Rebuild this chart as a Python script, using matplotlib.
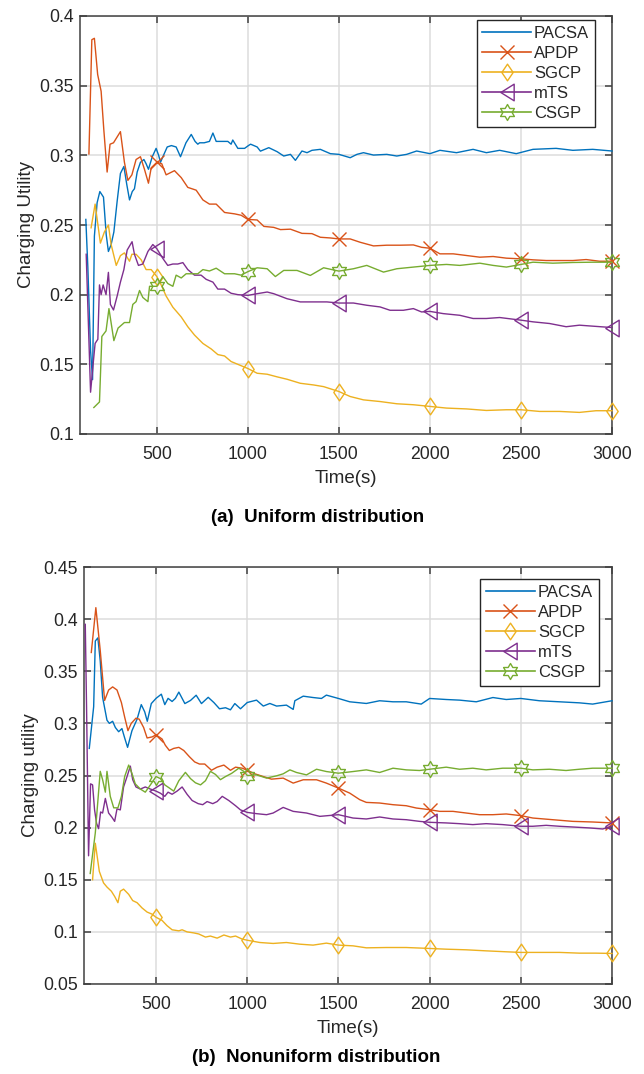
import numpy as np
import matplotlib
matplotlib.use("Agg")
import matplotlib.pyplot as plt
from matplotlib.path import Path
from matplotlib.lines import Line2D

plt.rcParams['font.family'] = ['Liberation Sans', 'DejaVu Sans']

# ---------------- data: (a) uniform distribution ----------------
pacsa_a_t = [110, 121, 136, 147, 157, 172, 187, 207, 222, 234, 249, 264, 282, 300, 319, 335, 350, 365, 377, 392,
             410, 429, 441, 454, 475, 496, 510, 520, 540, 557, 580, 606, 630, 660, 689, 710, 725, 735, 760, 789,
             808, 826, 850, 872, 890, 908, 917, 945, 965, 982, 1003, 1015, 1051, 1069, 1115, 1161, 1197, 1234, 1261, 1297,
             1325, 1352, 1398, 1453, 1500, 1562, 1599, 1635, 1690, 1763, 1818, 1872, 1927, 2000, 2055, 2146, 2237, 2310, 2383, 2474,
             2566, 2693, 2785, 2894, 3000]
pacsa_a_u = [0.254, 0.220, 0.160, 0.139, 0.242, 0.266, 0.274, 0.270, 0.243, 0.231, 0.236, 0.245, 0.267, 0.287, 0.292, 0.279, 0.268, 0.274, 0.276, 0.288,
             0.295, 0.297, 0.294, 0.290, 0.299, 0.305, 0.300, 0.295, 0.301, 0.306, 0.307, 0.306, 0.299, 0.309, 0.315, 0.310, 0.308, 0.309, 0.309, 0.310,
             0.316, 0.310, 0.310, 0.310, 0.310, 0.308, 0.311, 0.305, 0.305, 0.305, 0.307, 0.308, 0.306, 0.303, 0.3055, 0.3026, 0.2995, 0.3007, 0.2964, 0.3031,
             0.3019, 0.3036, 0.3043, 0.3012, 0.3007, 0.2983, 0.3007, 0.3019, 0.3002, 0.3007, 0.2995, 0.3007, 0.3031, 0.3012, 0.3036, 0.3019, 0.3043, 0.3019, 0.3036, 0.3012,
             0.3043, 0.305, 0.3036, 0.3043, 0.3031]

apdp_a_t = [127, 143, 157, 175, 194, 209, 227, 243, 262, 300, 322, 341, 363, 386, 410, 432, 454, 469, 500, 527,
            551, 597, 634, 670, 716, 753, 789, 826, 872, 927, 963, 1000, 1051, 1088, 1142, 1179, 1234, 1297, 1352, 1398,
            1453, 1500, 1562, 1617, 1690, 1763, 1836, 1909, 1954, 2000, 2055, 2128, 2201, 2274, 2347, 2420, 2500, 2566, 2639, 2712,
            2785, 2858, 2931, 3000]
apdp_a_u = [0.301, 0.383, 0.384, 0.358, 0.346, 0.318, 0.288, 0.308, 0.309, 0.317, 0.295, 0.282, 0.286, 0.297, 0.299, 0.290, 0.280, 0.291, 0.295, 0.294,
            0.286, 0.289, 0.284, 0.277, 0.275, 0.268, 0.265, 0.265, 0.259, 0.258, 0.257, 0.254, 0.2536, 0.249, 0.2483, 0.2467, 0.247, 0.244, 0.2438, 0.2412,
            0.2407, 0.240, 0.240, 0.2376, 0.235, 0.2355, 0.2355, 0.2357, 0.234, 0.2333, 0.2293, 0.2293, 0.2281, 0.2269, 0.2274, 0.2262, 0.2257, 0.225, 0.2245, 0.2245,
            0.2245, 0.2252, 0.224, 0.224]

sgcp_a_t = [139, 161, 190, 212, 234, 249, 277, 300, 322, 350, 363, 386, 414, 441, 469, 500, 524, 551, 588, 634,
            670, 707, 753, 799, 835, 872, 908, 945, 1000, 1051, 1106, 1161, 1215, 1288, 1361, 1416, 1500, 1562, 1635, 1726,
            1818, 1909, 2000, 2091, 2201, 2310, 2420, 2500, 2602, 2712, 2821, 2912, 3000]
sgcp_a_u = [0.248, 0.265, 0.237, 0.245, 0.250, 0.236, 0.221, 0.228, 0.230, 0.224, 0.229, 0.229, 0.225, 0.218, 0.218, 0.213, 0.207, 0.199, 0.191, 0.184,
            0.177, 0.171, 0.165, 0.161, 0.157, 0.156, 0.152, 0.150, 0.147, 0.1436, 0.1429, 0.141, 0.1393, 0.1364, 0.1352, 0.134, 0.1305, 0.1269, 0.1245, 0.1233,
            0.1217, 0.121, 0.1198, 0.1186, 0.118, 0.1169, 0.1174, 0.1174, 0.1162, 0.1162, 0.1155, 0.1167, 0.1167]

mts_a_t = [112, 136, 150, 161, 176, 185, 194, 205, 221, 234, 245, 262, 282, 300, 319, 337, 364, 377, 399, 423,
           451, 478, 500, 533, 560, 588, 615, 643, 670, 707, 743, 771, 808, 835, 872, 908, 945, 1000, 1051, 1106,
           1142, 1215, 1288, 1361, 1434, 1500, 1580, 1653, 1726, 1781, 1854, 1909, 1954, 2000, 2073, 2164, 2237, 2310, 2383, 2500,
           2566, 2657, 2748, 2821, 2894, 3000]
mts_a_u = [0.229, 0.130, 0.150, 0.165, 0.168, 0.207, 0.200, 0.207, 0.200, 0.216, 0.193, 0.189, 0.199, 0.209, 0.218, 0.232, 0.238, 0.229, 0.221, 0.222,
           0.231, 0.236, 0.233, 0.226, 0.221, 0.222, 0.222, 0.223, 0.218, 0.214, 0.214, 0.211, 0.209, 0.204, 0.204, 0.201, 0.200, 0.1995, 0.2007, 0.2019,
           0.2007, 0.1971, 0.1948, 0.1948, 0.1948, 0.194, 0.194, 0.1924, 0.1912, 0.1888, 0.1888, 0.190, 0.1876, 0.188, 0.1864, 0.1852, 0.1829, 0.1829, 0.1836, 0.1817,
           0.1805, 0.1793, 0.177, 0.1781, 0.1774, 0.1764]

csgp_a_t = [154, 185, 198, 221, 237, 264, 287, 322, 350, 368, 386, 405, 423, 451, 460, 500, 533, 560, 588, 606,
            634, 661, 698, 725, 753, 789, 826, 872, 927, 963, 1000, 1051, 1106, 1151, 1197, 1270, 1343, 1416, 1500, 1580,
            1653, 1745, 1818, 1909, 2000, 2091, 2164, 2274, 2347, 2420, 2500, 2566, 2675, 2785, 2894, 3000]
csgp_a_u = [0.119, 0.123, 0.170, 0.174, 0.190, 0.167, 0.176, 0.180, 0.180, 0.193, 0.195, 0.203, 0.198, 0.195, 0.206, 0.206, 0.213, 0.208, 0.206, 0.214,
            0.212, 0.215, 0.215, 0.215, 0.218, 0.217, 0.219, 0.215, 0.215, 0.214, 0.2165, 0.2193, 0.2186, 0.213, 0.2174, 0.2174, 0.2138, 0.2193, 0.2169, 0.2186,
            0.221, 0.2162, 0.2186, 0.2198, 0.221, 0.2217, 0.221, 0.2226, 0.221, 0.2198, 0.2217, 0.2233, 0.2226, 0.2231, 0.2233, 0.2233]

# ---------------- data: (b) nonuniform distribution ----------------
pacsa_b_t = [134, 158, 167, 181, 194, 207, 231, 244, 262, 277, 295, 313, 328, 344, 368, 396, 419, 438, 452, 474,
             500, 529, 548, 566, 588, 606, 625, 658, 689, 720, 749, 786, 817, 848, 881, 908, 932, 963, 1000, 1015,
             1051, 1088, 1124, 1161, 1215, 1252, 1261, 1307, 1361, 1407, 1434, 1500, 1562, 1653, 1726, 1799, 1872, 1954, 2000, 2091,
             2164, 2256, 2347, 2420, 2500, 2602, 2712, 2821, 2894, 3000]
pacsa_b_u = [0.276, 0.316, 0.379, 0.382, 0.360, 0.325, 0.303, 0.300, 0.302, 0.296, 0.292, 0.295, 0.286, 0.277, 0.293, 0.304, 0.318, 0.311, 0.302, 0.319,
             0.324, 0.328, 0.318, 0.324, 0.321, 0.324, 0.330, 0.319, 0.322, 0.327, 0.319, 0.325, 0.320, 0.314, 0.315, 0.313, 0.319, 0.314, 0.320, 0.3207,
             0.3223, 0.3166, 0.3191, 0.3166, 0.3175, 0.3134, 0.3217, 0.3261, 0.3248, 0.3239, 0.3271, 0.3239, 0.3207, 0.3191, 0.3217, 0.3207, 0.3207, 0.3185, 0.3239, 0.3229,
             0.3223, 0.3207, 0.3248, 0.3229, 0.3239, 0.3217, 0.3207, 0.3197, 0.3185, 0.3217]

apdp_b_t = [145, 170, 194, 218, 240, 262, 286, 310, 328, 346, 364, 390, 408, 432, 451, 478, 500, 533, 551, 573,
            597, 625, 652, 683, 712, 738, 767, 804, 835, 872, 908, 936, 973, 1000, 1042, 1088, 1133, 1197, 1252, 1307,
            1380, 1434, 1500, 1562, 1617, 1653, 1726, 1799, 1872, 1927, 2000, 2055, 2128, 2201, 2274, 2347, 2420, 2500, 2566, 2675,
            2785, 2894, 3000]
apdp_b_u = [0.368, 0.411, 0.370, 0.322, 0.332, 0.335, 0.332, 0.320, 0.306, 0.293, 0.300, 0.305, 0.304, 0.296, 0.286, 0.287, 0.289, 0.285, 0.279, 0.274,
            0.276, 0.277, 0.274, 0.268, 0.263, 0.261, 0.261, 0.255, 0.258, 0.260, 0.255, 0.258, 0.257, 0.255, 0.2516, 0.249, 0.2465, 0.2475, 0.2427, 0.2459,
            0.2459, 0.2427, 0.2379, 0.2331, 0.2268, 0.2242, 0.2236, 0.222, 0.221, 0.2188, 0.2172, 0.2156, 0.2156, 0.214, 0.2124, 0.2124, 0.2131, 0.2115, 0.2092, 0.2076,
            0.206, 0.2054, 0.2045]

sgcp_b_t = [152, 167, 189, 212, 231, 255, 273, 291, 304, 322, 350, 372, 396, 423, 451, 478, 500, 533, 560, 588,
            625, 643, 670, 707, 734, 771, 798, 835, 872, 908, 936, 973, 1000, 1069, 1142, 1215, 1288, 1361, 1434, 1500,
            1580, 1653, 1763, 1872, 2000, 2091, 2201, 2310, 2420, 2500, 2602, 2712, 2821, 2912, 3000]
sgcp_b_u = [0.150, 0.185, 0.158, 0.147, 0.143, 0.139, 0.134, 0.128, 0.139, 0.141, 0.136, 0.130, 0.128, 0.123, 0.119, 0.117, 0.114, 0.111, 0.106, 0.102,
            0.101, 0.102, 0.100, 0.099, 0.098, 0.095, 0.096, 0.094, 0.097, 0.095, 0.096, 0.093, 0.092, 0.0898, 0.0889, 0.0898, 0.0882, 0.0873, 0.0892, 0.0873,
            0.0866, 0.0847, 0.085, 0.085, 0.0841, 0.0834, 0.0828, 0.0818, 0.0809, 0.0803, 0.0803, 0.0803, 0.0796, 0.0796, 0.0793]

mts_b_t = [112, 119, 130, 141, 152, 163, 174, 185, 196, 207, 222, 240, 258, 273, 286, 304, 322, 341, 359, 372,
           390, 414, 441, 469, 500, 524, 548, 566, 588, 615, 643, 670, 698, 731, 756, 780, 811, 835, 863, 899,
           936, 963, 1000, 1051, 1106, 1142, 1197, 1252, 1325, 1398, 1500, 1580, 1653, 1726, 1799, 1872, 1945, 2000, 2091, 2164,
           2237, 2310, 2401, 2500, 2566, 2639, 2712, 2785, 2876, 2949, 3000]
mts_b_u = [0.395, 0.316, 0.173, 0.242, 0.241, 0.217, 0.204, 0.199, 0.215, 0.214, 0.228, 0.214, 0.210, 0.206, 0.218, 0.217, 0.239, 0.249, 0.259, 0.246,
           0.239, 0.237, 0.239, 0.237, 0.235, 0.233, 0.230, 0.234, 0.232, 0.235, 0.239, 0.232, 0.226, 0.223, 0.222, 0.225, 0.223, 0.225, 0.230, 0.226,
           0.221, 0.217, 0.2146, 0.2134, 0.2124, 0.214, 0.2194, 0.2156, 0.214, 0.2108, 0.2124, 0.2092, 0.2083, 0.2102, 0.2083, 0.2076, 0.206, 0.2051, 0.2045, 0.2038,
           0.2029, 0.2038, 0.2029, 0.2013, 0.2013, 0.2022, 0.2013, 0.2006, 0.1997, 0.1987, 0.2013]

csgp_b_t = [139, 167, 194, 207, 222, 231, 249, 268, 291, 310, 328, 350, 368, 386, 414, 441, 469, 500, 524, 548,
            573, 597, 625, 661, 689, 716, 744, 771, 798, 826, 853, 881, 914, 954, 981, 1000, 1051, 1106, 1161, 1197,
            1234, 1270, 1325, 1380, 1434, 1500, 1580, 1653, 1726, 1799, 1872, 1945, 2000, 2091, 2164, 2237, 2310, 2401, 2500, 2566,
            2657, 2748, 2821, 2894, 3000]
csgp_b_u = [0.156, 0.195, 0.254, 0.246, 0.234, 0.254, 0.230, 0.219, 0.219, 0.230, 0.249, 0.260, 0.252, 0.242, 0.237, 0.234, 0.241, 0.249, 0.247, 0.241,
            0.238, 0.235, 0.245, 0.253, 0.247, 0.243, 0.241, 0.245, 0.254, 0.251, 0.246, 0.249, 0.252, 0.257, 0.254, 0.250, 0.2506, 0.2475, 0.2497, 0.2516,
            0.2554, 0.2529, 0.2506, 0.256, 0.2538, 0.2522, 0.2538, 0.2554, 0.2529, 0.257, 0.2554, 0.2548, 0.256, 0.258, 0.256, 0.257, 0.2554, 0.257, 0.257, 0.2554,
            0.256, 0.2548, 0.256, 0.257, 0.257]

series_names = ['PACSA', 'APDP', 'SGCP', 'mTS', 'CSGP']
marker_times = [500, 1000, 1500, 2000, 2500, 3000]
x_ticks = [500, 1000, 1500, 2000, 2500, 3000]
y_ticks_a = [0.1, 0.15, 0.2, 0.25, 0.3, 0.35, 0.4]
y_ticks_b = [0.05, 0.1, 0.15, 0.2, 0.25, 0.3, 0.35, 0.4, 0.45]

# ---------------- styles ----------------
colors = ['#0072BD', '#D95319', '#EDB120', '#7E2F8E', '#77AC30']

diamond = Path([(0, 1), (0.68, 0), (0, -1), (-0.68, 0), (0, 1)],
               [Path.MOVETO, Path.LINETO, Path.LINETO, Path.LINETO, Path.CLOSEPOLY])
tri_left = Path([(-0.8, 0), (0.8, 1), (0.8, -1), (-0.8, 0)],
                [Path.MOVETO, Path.LINETO, Path.LINETO, Path.CLOSEPOLY])
hex_verts = []
for k in range(12):
    ang = np.pi / 2 + k * np.pi / 6
    r = 1.0 if k % 2 == 0 else 0.577
    hex_verts.append((r * np.cos(ang), r * np.sin(ang)))
hex_verts.append(hex_verts[0])
hexagram = Path(hex_verts, [Path.MOVETO] + [Path.LINETO] * 11 + [Path.CLOSEPOLY])

markers = [None, 'x', diamond, tri_left, hexagram]
msizes = [0, 10.5, 12, 12, 11.5]

axis_color = '#404040'
text_color = '#262626'
grid_color = '#dcdcdc'

W, H = 644, 1074
fig = plt.figure(figsize=(W / 100, H / 100), dpi=100)


def px_axes(l, t, r, b):
    return fig.add_axes([l / W, 1 - b / H, (r - l) / W, (b - t) / H])


def draw(ax, data, xlim, ylim, yticks, ylabel, leg_anchor):
    for i, (t, u) in enumerate(data):
        t = np.asarray(t, float)
        u = np.asarray(u, float)
        kw = dict(color=colors[i], lw=1.0, clip_on=False, zorder=3)
        if markers[i] is not None:
            idx = [int(np.where(t == m)[0][0]) for m in marker_times]
            kw.update(marker=markers[i], markevery=idx, ms=msizes[i],
                      mfc='none', mec=colors[i], mew=1.0)
        ax.plot(t, u, **kw)
    ax.set_xlim(*xlim)
    ax.set_ylim(*ylim)
    ax.set_xticks(x_ticks)
    ax.set_yticks(yticks)
    ax.set_yticklabels([('%g' % v) for v in yticks])
    ax.grid(True, color=grid_color, lw=1.1, zorder=0)
    ax.set_axisbelow(True)
    for s in ax.spines.values():
        s.set_color(axis_color)
        s.set_linewidth(1.1)
    ax.tick_params(direction='in', length=5, width=1.1, colors=axis_color,
                   top=True, right=True, labelsize=12.7, labelcolor=text_color)
    ax.tick_params(axis='x', pad=8.5)
    ax.tick_params(axis='y', pad=4.5)
    ax.set_xlabel('Time(s)', fontsize=13.5, color=text_color, labelpad=5)
    ax.set_ylabel(ylabel, fontsize=13.5, color=text_color, labelpad=3)
    handles = []
    for i in range(5):
        if markers[i] is None:
            h = Line2D([], [], color=colors[i], lw=1.2)
        else:
            h = Line2D([], [], color=colors[i], lw=1.2, marker=markers[i], ms=msizes[i],
                       mfc='none', mec=colors[i], mew=1.0)
        handles.append(h)
    leg = ax.legend(handles, series_names, loc='upper right', bbox_to_anchor=leg_anchor,
                    borderaxespad=0, fancybox=False, framealpha=1, edgecolor=text_color,
                    fontsize=12, handlelength=2.9, handletextpad=0.2, labelspacing=0.3,
                    borderpad=0.35, numpoints=1)
    leg.get_frame().set_linewidth(1.0)
    for txt in leg.get_texts():
        txt.set_color(text_color)


ax1 = px_axes(80, 16, 612, 434)
draw(ax1, [(pacsa_a_t, pacsa_a_u), (apdp_a_t, apdp_a_u), (sgcp_a_t, sgcp_a_u),
           (mts_a_t, mts_a_u), (csgp_a_t, csgp_a_u)],
     (78, 3000), (0.1, 0.4), y_ticks_a, 'Charging Utility', (0.968, 0.99))

ax2 = px_axes(84, 567, 612, 984)
draw(ax2, [(pacsa_b_t, pacsa_b_u), (apdp_b_t, apdp_b_u), (sgcp_b_t, sgcp_b_u),
           (mts_b_t, mts_b_u), (csgp_b_t, csgp_b_u)],
     (105, 3000), (0.05, 0.45), y_ticks_b, 'Charging utility', (0.975, 0.971))

fig.text(318 / W, 1 - 517 / H, '(a)  Uniform distribution', ha='center', va='center',
         fontsize=13.5, fontweight='bold', color='black')
fig.text(316 / W, 1 - 1058 / H, '(b)  Nonuniform distribution', ha='center', va='center',
         fontsize=13.5, fontweight='bold', color='black')

fig.savefig('out.png', dpi=100)
